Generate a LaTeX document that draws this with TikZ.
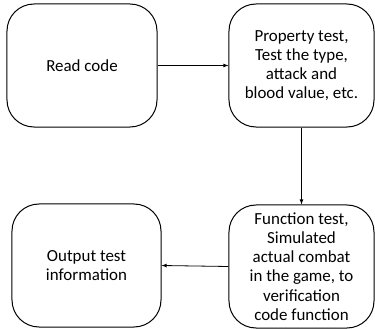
\documentclass[tikz,border=0pt]{standalone}
\usepackage{fontspec}
\setmainfont{Carlito}
\usepackage{tikz}
\usetikzlibrary{shapes.geometric, arrows}
\tikzstyle{box} = [draw, line width=1bp, rectangle, rounded corners=27bp, inner sep=0pt, align=center, font=\fontsize{17}{19.3}\selectfont]
\tikzstyle{arrow} = [line width=0.8bp,->,>=latex]

\begin{document}
\begin{tikzpicture}[x=1bp,y=1bp]
\useasboundingbox (0,0) rectangle (375,329);
\node[box, minimum width=150bp, minimum height=123bp] (read) at (82,263.5) {Read code};
\node[box, minimum width=145bp, minimum height=123bp] (prop) at (301.5,263.5) {Property test,\\Test the type,\\attack and\\blood value, etc.};
\node[box, minimum width=145bp, minimum height=123bp] (func) at (301.5,62.5) {Function test,\\Simulated\\actual combat\\in the game, to\\verification\\code function};
\node[box, minimum width=149bp, minimum height=123bp] (out) at (86.5,63.5) {Output test\\information};
\draw[arrow] (read.east) -- (prop.west);
\draw[arrow] (prop.south) -- (func.north);
\draw[arrow] (func.west) -- (out.east);
\end{tikzpicture}
\end{document}
